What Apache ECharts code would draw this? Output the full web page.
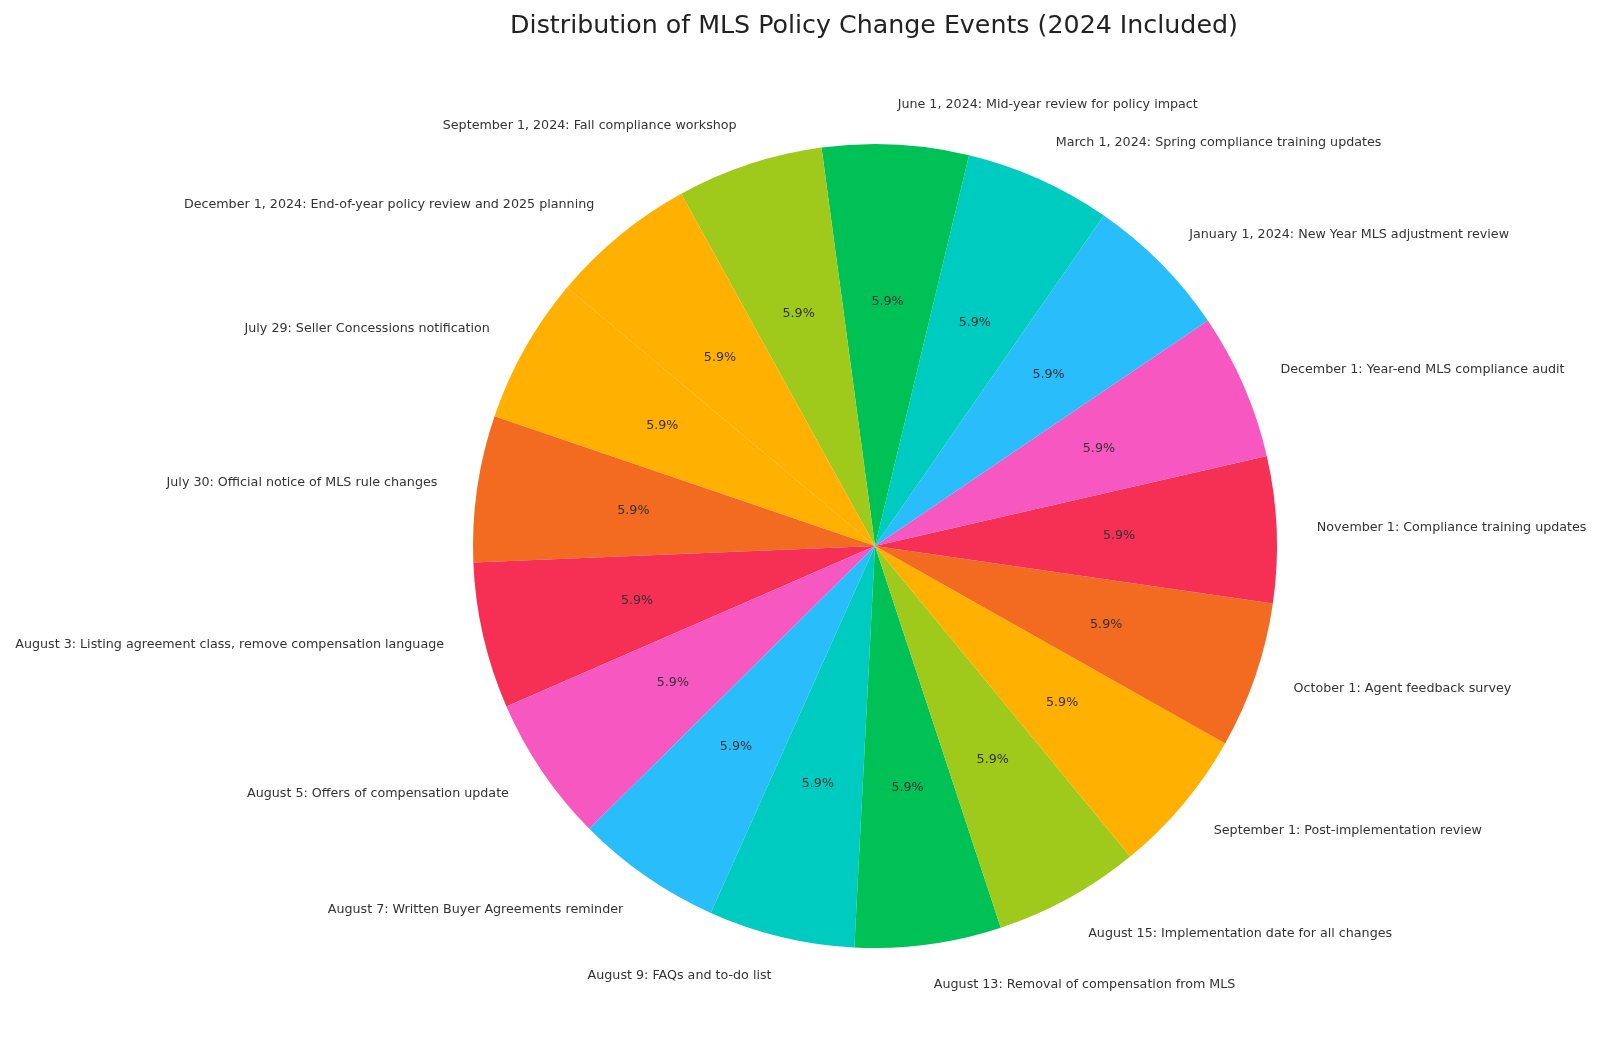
<!DOCTYPE html>
<html>
<head>
<meta charset="utf-8">
<script src="https://cdn.jsdelivr.net/npm/echarts@6/dist/echarts.min.js"></script>
<style>
html,body{margin:0;padding:0;background:#fff;}
#chart{width:1600px;height:1062px;}
</style>
</head>
<body>
<div id="chart"></div>
<script>
const titleText = 'Distribution of MLS Policy Change Events (2024 Included)';
const categories = [
  'July 29: Seller Concessions notification',
  'July 30: Official notice of MLS rule changes',
  'August 3: Listing agreement class, remove compensation language',
  'August 5: Offers of compensation update',
  'August 7: Written Buyer Agreements reminder',
  'August 9: FAQs and to-do list',
  'August 13: Removal of compensation from MLS',
  'August 15: Implementation date for all changes',
  'September 1: Post-implementation review',
  'October 1: Agent feedback survey',
  'November 1: Compliance training updates',
  'December 1: Year-end MLS compliance audit',
  'January 1, 2024: New Year MLS adjustment review',
  'March 1, 2024: Spring compliance training updates',
  'June 1, 2024: Mid-year review for policy impact',
  'September 1, 2024: Fall compliance workshop',
  'December 1, 2024: End-of-year policy review and 2025 planning'
];
const values = [1,1,1,1,1,1,1,1,1,1,1,1,1,1,1,1,1];
const palette = ['#FFB000','#F26B21','#F53054','#F757C0','#29BDFC','#00CBC0','#00C155','#9FCA1C'];

const R = 402;
const cx = 875, cy = 546;
const total = values.reduce((a, b) => a + b, 0);
const data = categories.map((c, i) => ({name: c, value: values[i], itemStyle: {color: palette[i % palette.length]}}));

const chart = echarts.init(document.getElementById('chart'), null, {renderer: 'canvas'});
chart.setOption({
  backgroundColor: '#ffffff',
  animation: false,
  title: {
    text: titleText,
    left: 869,
    textAlign: 'center',
    top: 9,
    textStyle: {fontFamily: 'DejaVu Sans', fontSize: 25.3, fontWeight: 'normal', color: '#222222'}
  },
  series: [
    {
      type: 'pie',
      center: [cx, cy],
      radius: R,
      startAngle: 140,
      clockwise: false,
      avoidLabelOverlap: false,
      minShowLabelAngle: 0,
      itemStyle: {borderWidth: 0},
      emphasis: {disabled: true},
      label: {
        show: true,
        position: 'outside',
        formatter: '{b}',
        fontFamily: 'DejaVu Sans',
        fontSize: 12.7,
        color: '#333333',
        distanceToLabelLine: 0
      },
      labelLine: {show: false, length: R * 0.1, length2: 0},
      data: data
    },
    {
      type: 'pie',
      center: [cx, cy],
      radius: R * 1.2,
      startAngle: 140,
      clockwise: false,
      silent: true,
      avoidLabelOverlap: false,
      itemStyle: {color: 'rgba(0,0,0,0)', borderWidth: 0},
      emphasis: {disabled: true},
      label: {
        show: true,
        position: 'inside',
        formatter: p => (p.value / total * 100).toFixed(1) + '%',
        fontFamily: 'DejaVu Sans',
        fontSize: 12.7,
        color: '#333333'
      },
      labelLine: {show: false},
      data: categories.map((c, i) => ({name: c, value: values[i]}))
    }
  ]
});
</script>
</body>
</html>
